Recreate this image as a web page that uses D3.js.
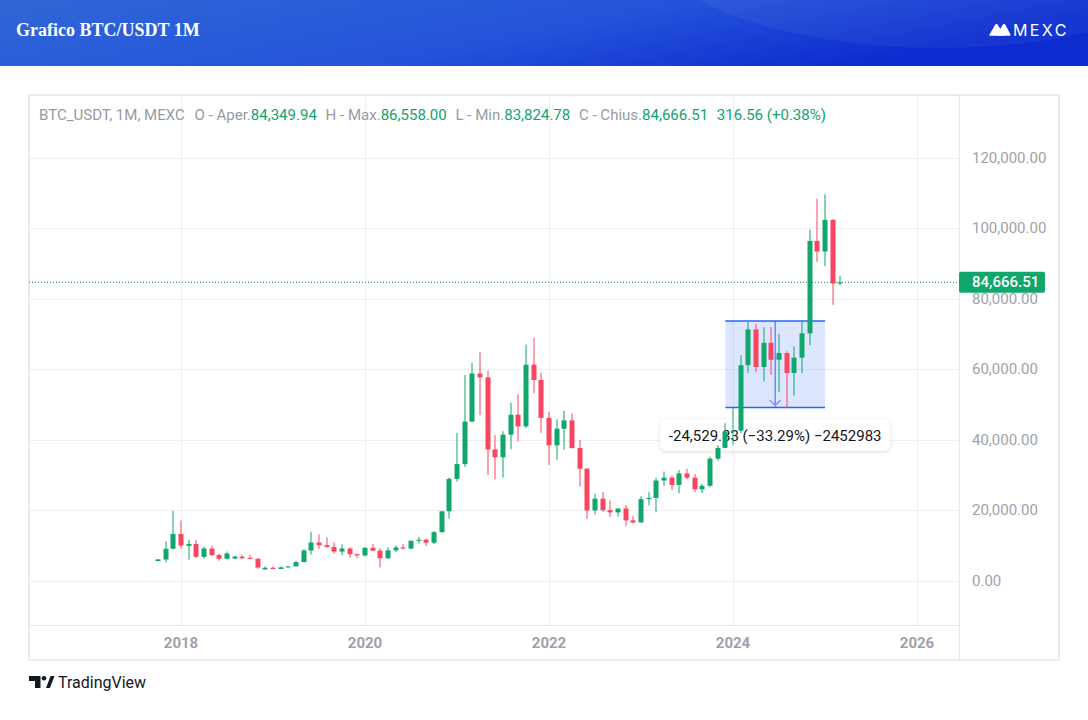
<!DOCTYPE html>
<html>
<head>
<meta charset="utf-8">
<script src="https://cdn.jsdelivr.net/npm/d3@7"></script>
<style>
body{margin:0;background:#fff;}
svg{display:block;font-family:Roboto,"Noto Sans",sans-serif;}
</style>
</head>
<body>
<svg id="chart" width="1088" height="720"></svg>
<script>
// monthly candles, Oct 2017 .. Mar 2025
const months=["2017-10","2017-11","2017-12",
"2018-01","2018-02","2018-03","2018-04","2018-05","2018-06","2018-07","2018-08","2018-09","2018-10","2018-11","2018-12",
"2019-01","2019-02","2019-03","2019-04","2019-05","2019-06","2019-07","2019-08","2019-09","2019-10","2019-11","2019-12",
"2020-01","2020-02","2020-03","2020-04","2020-05","2020-06","2020-07","2020-08","2020-09","2020-10","2020-11","2020-12",
"2021-01","2021-02","2021-03","2021-04","2021-05","2021-06","2021-07","2021-08","2021-09","2021-10","2021-11","2021-12",
"2022-01","2022-02","2022-03","2022-04","2022-05","2022-06","2022-07","2022-08","2022-09","2022-10","2022-11","2022-12",
"2023-01","2023-02","2023-03","2023-04","2023-05","2023-06","2023-07","2023-08","2023-09","2023-10","2023-11","2023-12",
"2024-01","2024-02","2024-03","2024-04","2024-05","2024-06","2024-07","2024-08","2024-09","2024-10","2024-11","2024-12",
"2025-01","2025-02","2025-03"];
const open=[5600,6050,9100,
13300,9900,10450,6800,9150,7300,6250,6300,6850,6500,6250,3250,
3700,3350,3800,4100,5300,8600,10850,10100,9600,8300,9150,7550,
7200,9350,8550,6400,8650,9450,9150,11350,11650,10800,13800,19700,
28900,33100,45150,58800,57700,37250,35050,41450,47100,43800,61300,56950,
46200,38450,43150,45500,37650,31800,19950,23300,20050,19400,20500,17150,
16550,23150,23500,28450,29250,27200,30450,29250,25950,26950,34650,37700,
42300,42600,61150,71300,60650,67500,62700,64600,58950,63300,70200,96400,
93400,102400,84349.94];
const high=[6150,11200,19800,
17100,11600,11600,9700,9950,7750,8300,7150,7400,7350,6400,4050,
4100,4150,4100,5600,9050,13900,13150,12300,10900,10400,9500,7700,
9600,10500,9200,9450,10050,10400,11450,12450,12050,14100,19850,29300,
41950,58350,61800,64850,59600,41300,42450,50500,52900,67000,69000,59050,
47990,45800,48200,47450,40000,31950,24650,25200,22800,20500,21450,18400,
23950,25250,29200,31000,29850,31400,31800,30250,27500,35200,38450,44700,
48950,64000,73750,72800,71950,71950,70050,65100,66500,73600,99600,108350,
109600,102500,86558];
const low=[5500,5200,8900,
9200,6000,6500,6300,7000,5700,6050,6200,6150,6100,3450,3150,
3300,3300,3700,4050,5300,7450,9100,9400,7700,7300,6550,6450,
6900,8450,3800,6150,8150,8850,8900,10550,9850,10400,13650,17600,
28150,32300,45000,47000,30000,28800,29300,37350,39600,43300,53250,42000,
32900,34300,37150,37550,26700,17600,18800,19550,18150,18200,15500,16250,
16500,21350,19550,26950,25800,24800,28850,25150,24900,26550,34100,37600,
38550,41900,59000,59200,56550,58400,53500,49000,52550,58900,66800,90500,
89250,78250,83824.78];
const close=[6050,9100,13300,
10000,10450,6800,9150,7300,6250,7750,6850,6400,6200,3750,3700,
3350,3800,4100,5300,8600,10850,10100,9600,8300,9150,7550,7200,
9350,8550,6400,8650,9450,9150,11350,11650,10800,13800,19700,28900,
33100,45150,58800,57700,37250,35050,41450,47100,43800,61300,56950,46200,
38450,43150,45500,37650,31800,19950,23300,20050,19400,20500,17150,16550,
23150,23500,28450,29250,27200,30450,29250,25950,26950,34650,37700,42300,
42600,61150,71300,60650,67500,62700,64600,58950,63300,70200,96400,93400,
102400,84350,84666.51];

const priceTicks=[0,20000,40000,60000,80000,100000,120000];
const yearTicks=[2018,2020,2022,2024,2026];
const lastPrice=84666.51;
// measured range drawing
const rangeFrom="2023-12", rangeTo="2025-01";
const rangeTop=73685.0, rangeDrop=24529.83;
const rangeLabel="-24,529.83 (\u221233.29%) \u22122452983";
const legendParts=[
  ["BTC_USDT, 1M, MEXC","gray",0],
  ["O - Aper.","gray",10],["84,349.94","green",0],
  ["H - Max.","gray",9],["86,558.00","green",0],
  ["L - Min.","gray",9],["83,824.78","green",0],
  ["C - Chius.","gray",9],["84,666.51","green",0],
  ["316.56 (+0.38%)","green",9]
];

const UP="#10a66c", DOWN="#fa4560", GRID="#eceef1", TXT="#9ea2aa";
const L=29, R=959, T=95, B=625;

// month index relative to Jan 2018
const mIdx=s=>{const [y,m]=s.split("-").map(Number);return (y-2018)*12+m-1;};
const x=d3.scaleLinear().domain([0,96]).range([181,917]);
const y=d3.scaleLinear().domain([-12540,137800]).range([B,T]);

const candles=months.map((m,i)=>({m:mIdx(m),o:open[i],h:high[i],l:low[i],c:close[i]}));

const svg=d3.select("#chart");
const defs=svg.append("defs");

// header
const g1=defs.append("linearGradient").attr("id","hdr").attr("x1",0).attr("x2",1).attr("y1",0).attr("y2",0.3);
g1.append("stop").attr("offset",0).attr("stop-color","#3067d6");
g1.append("stop").attr("offset",0.6).attr("stop-color","#2452da");
g1.append("stop").attr("offset",1).attr("stop-color","#0c2ccf");
defs.append("clipPath").attr("id","hclip").append("rect").attr("width",1088).attr("height",66);
defs.append("filter").attr("id","shadow").attr("x",-0.1).attr("y",-0.3).attr("width",1.2).attr("height",1.6)
  .append("feDropShadow").attr("dx",0).attr("dy",1).attr("stdDeviation",2).attr("flood-color","#000").attr("flood-opacity",0.15);

svg.append("rect").attr("width",1088).attr("height",66).attr("fill","url(#hdr)");
svg.append("ellipse").attr("clip-path","url(#hclip)")
  .attr("cx",940).attr("cy",-70).attr("rx",300).attr("ry",118)
  .attr("fill","#ffffff").attr("opacity",0.045);
svg.append("text").attr("x",16).attr("y",36)
  .style("font-family","'Liberation Serif','Times New Roman',serif")
  .style("font-weight","bold").style("font-size","18px").attr("fill","#fff")
  .text("Grafico BTC/USDT 1M");
// MEXC logo
const logo=svg.append("g").attr("fill","#fff");
logo.append("path").attr("d","M990 35 L995.5 25.5 Q996.5 24 997.5 25.5 L1003 35 Z")
  .attr("stroke","#fff").attr("stroke-width",1.4).attr("stroke-linejoin","round");
logo.append("path").attr("d","M997.5 35 L1003 25.5 Q1004 24 1005 25.5 L1010 35 Z")
  .attr("stroke","#fff").attr("stroke-width",1.4).attr("stroke-linejoin","round");
logo.append("text").attr("x",1013).attr("y",36)
  .style("font-size","16px").style("letter-spacing","2.4px").style("font-family","Inter,Roboto,sans-serif")
  .text("MEXC");

// frame + grid
svg.append("rect").attr("x",L).attr("y",T).attr("width",1059-L).attr("height",660-T)
  .attr("fill","none").attr("stroke","#e9ebef").attr("stroke-width",2);
svg.append("g").selectAll("line").data(priceTicks).join("line")
  .attr("x1",L).attr("x2",R).attr("y1",d=>Math.round(y(d))+0.5).attr("y2",d=>Math.round(y(d))+0.5)
  .attr("stroke",GRID);
svg.append("g").selectAll("line").data(yearTicks).join("line")
  .attr("x1",d=>Math.round(x((d-2018)*12))+0.5).attr("x2",d=>Math.round(x((d-2018)*12))+0.5)
  .attr("y1",T).attr("y2",B).attr("stroke",GRID);
svg.append("line").attr("x1",L).attr("x2",R).attr("y1",B+0.5).attr("y2",B+0.5).attr("stroke","#e6e8ec");
svg.append("line").attr("x1",R+0.5).attr("x2",R+0.5).attr("y1",T).attr("y2",660).attr("stroke","#e6e8ec");

// measured range box
const bx0=x(mIdx(rangeFrom)), bx1=x(mIdx(rangeTo)), by0=y(rangeTop), by1=y(rangeTop-rangeDrop);
const mid=(bx0+bx1)/2;
svg.append("rect").attr("x",bx0).attr("y",by0).attr("width",bx1-bx0).attr("height",by1-by0)
  .attr("fill","rgba(41,98,255,0.16)");
svg.append("line").attr("x1",bx0).attr("x2",bx1).attr("y1",by0).attr("y2",by0).attr("stroke","#2962ff").attr("stroke-width",1.5);
svg.append("line").attr("x1",bx0).attr("x2",bx1).attr("y1",by1).attr("y2",by1).attr("stroke","#2962ff").attr("stroke-width",1.5);
svg.append("line").attr("x1",mid).attr("x2",mid).attr("y1",by0).attr("y2",by1).attr("stroke","#2962ff").attr("stroke-width",1);
svg.append("path").attr("d",`M${mid-5.5},${by1-7.5} L${mid},${by1-2} L${mid+5.5},${by1-7.5}`)
  .attr("fill","none").attr("stroke","#7b9bff").attr("stroke-width",1.5);
// label under the candles
const lab=svg.append("g");
lab.append("rect").attr("x",mid-115).attr("y",by1+12).attr("width",230).attr("height",31).attr("rx",6)
  .attr("fill","#fff").attr("filter","url(#shadow)");
lab.append("text").attr("x",mid).attr("y",by1+28).attr("text-anchor","middle").attr("dominant-baseline","central")
  .style("font-size","15px").attr("fill","#131722").text(rangeLabel);

// candles
const cg=svg.append("g").selectAll("g").data(candles).join("g")
  .attr("fill",d=>d.c>=d.o?UP:DOWN);
cg.append("rect")
  .attr("x",d=>Math.round(x(d.m))-0.5).attr("width",1)
  .attr("y",d=>y(d.h)).attr("height",d=>y(d.l)-y(d.h));
cg.append("rect")
  .attr("x",d=>Math.round(x(d.m))-2.5).attr("width",5)
  .attr("y",d=>y(Math.max(d.o,d.c)))
  .attr("height",d=>Math.max(1,Math.abs(y(d.o)-y(d.c))));

// last price line
svg.append("line").attr("x1",L).attr("x2",R).attr("y1",y(lastPrice)).attr("y2",y(lastPrice))
  .attr("stroke","#1d8a62").attr("stroke-width",1).attr("stroke-dasharray","1,2");

// price axis
svg.append("g").selectAll("text").data(priceTicks).join("text")
  .attr("x",972).attr("y",d=>y(d)).attr("dominant-baseline","central")
  .style("font-size","15px").attr("fill",TXT).text(d3.format(",.2f"));
svg.append("rect").attr("x",R).attr("y",y(lastPrice)-10.5).attr("width",86).attr("height",21).attr("rx",2)
  .attr("fill",UP);
svg.append("text").attr("x",972).attr("y",y(lastPrice)).attr("dominant-baseline","central")
  .style("font-size","15px").style("font-weight","500").attr("fill","#fff").text(d3.format(",.2f")(lastPrice));

// time axis
svg.append("g").selectAll("text").data(yearTicks).join("text")
  .attr("x",d=>x((d-2018)*12)).attr("y",648).attr("text-anchor","middle")
  .style("font-size","15px").style("font-weight","bold").attr("fill",TXT).text(d=>d);

// legend
const lg=svg.append("text").attr("x",39).attr("y",115).attr("dominant-baseline","central")
  .style("font-size","15.5px").attr("textLength",787).attr("lengthAdjust","spacingAndGlyphs");
legendParts.forEach(([t,c,dx])=>{
  lg.append("tspan").attr("dx",dx).attr("fill",c==="gray"?"#979aa2":"#12a36d").text(t);
});

// TradingView logo
const tv=svg.append("g").attr("fill","#131722");
tv.append("path").attr("d","M29 676h11.5v12h-5.5v-7H29z");
tv.append("circle").attr("cx",44).attr("cy",678.2).attr("r",2.3);
tv.append("path").attr("d","M46 688l4.6-12H54.5l-4.6 12z");
tv.append("text").attr("x",58).attr("y",688).style("font-size","16px").text("TradingView");
</script>
</body>
</html>
